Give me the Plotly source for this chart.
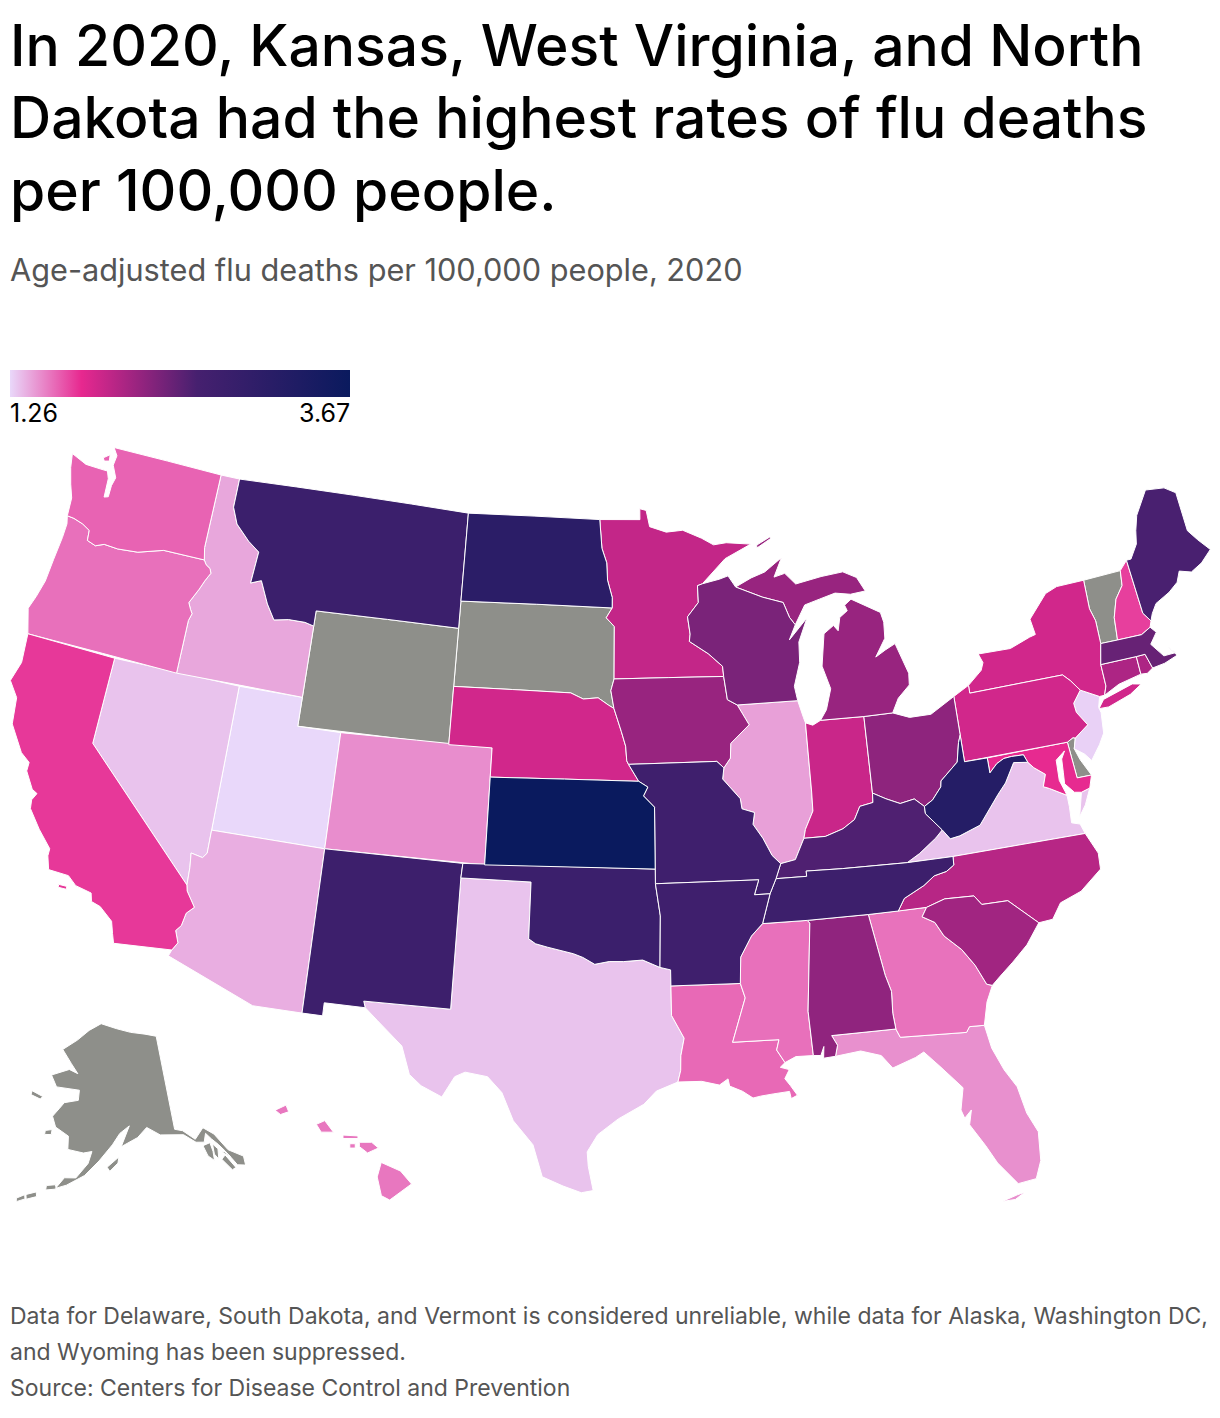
import plotly.graph_objects as go
from plotly.colors import sample_colorscale

# ---- chart data ----
states = ["UT","NJ","TX","VA","NV","AZ","ID","IL","CO","FL","OR","HI","WA","LA","MS","GA","CA","NH","MD","NE","NY","PA","IN","MN","NC","CT","RI","SC","IA","AL","OH","MI","WI","MA","KY","ME","TN","NM","MO","MT","OK","AR","ND","WV","KS"]
rates = [1.26,1.28,1.32,1.32,1.32,1.38,1.40,1.42,1.475,1.467,1.56,1.54,1.597,1.58,1.56,1.554,1.72,1.70,1.76,1.88,1.88,1.88,1.92,1.95,2.01,2.06,2.06,2.12,2.17,2.21,2.22,2.17,2.32,2.42,2.54,2.57,2.75,2.75,2.71,2.78,2.78,2.71,3.07,3.19,3.67]
no_data_states = ["AK","DC","DE","SD","VT","WY"]
no_data_color = "#8e8f8a"
scale_min = 1.26
scale_max = 3.67
scale_stops = [[0,"#e9d8fa"],[0.21,"#e7288f"],[0.55,"#46206f"],[1,"#0a1a5e"]]
title_lines = ["In 2020, Kansas, West Virginia, and North","Dakota had the highest rates of flu deaths","per 100,000 people."]
subtitle = "Age-adjusted flu deaths per 100,000 people, 2020"
notes = ["Data for Delaware, South Dakota, and Vermont is considered unreliable, while data for Alaska, Washington DC,","and Wyoming has been suppressed.","Source: Centers for Disease Control and Prevention"]

# ---- base map ----
# plotly's own state map is fetched from a CDN, which is unavailable here, so these are
# hand-approximated state outlines in lon/lat, drawn through plotly's albers-usa projection.
wa_or=[(-116.92,46.0),(-118.98,46.0),(-119.3,45.93),(-120.2,45.72),(-121.2,45.65),(-121.9,45.68),(-122.3,45.55),(-122.75,45.65),(-122.8,46.0),(-123.2,46.15),(-123.7,46.25),(-124.05,46.27)]
id_or=[(-116.92,46.0),(-116.78,45.85),(-116.55,45.75),(-116.46,45.6),(-116.67,45.3),(-116.85,44.98),(-117.2,44.45),(-117.05,44.24),(-116.93,44.1),(-117.03,43.85),(-117.03,42.0)]
co_river=[(-114.63,35.0),(-114.57,34.8),(-114.14,34.3),(-114.43,34.05),(-114.53,33.6),(-114.72,33.4),(-114.53,33.0),(-114.72,32.72)]
nv_az=[(-114.04,37.0),(-114.04,36.2),(-114.2,36.02),(-114.72,36.1),(-114.65,35.6),(-114.63,35.0)]
id_mt=[(-116.05,49.0),(-116.05,48.0),(-115.7,47.45),(-114.95,46.95),(-114.35,46.65),(-114.45,45.55),(-113.95,45.7),(-113.45,44.95),(-113.0,44.45),(-112.3,44.55),(-111.5,44.55),(-111.05,44.47)]
red_n=[(-97.23,49.0),(-97.1,48.0),(-96.85,47.5),(-96.8,46.9),(-96.56,46.3),(-96.56,45.94)]
sd_mn=[(-96.56,45.94),(-96.85,45.6),(-96.45,45.3),(-96.45,43.5)]
sioux=[(-96.45,43.5),(-96.6,43.1),(-96.45,42.49)]
ne_sd=[(-96.45,42.49),(-96.7,42.6),(-97.2,42.85),(-97.9,42.8),(-98.5,43.0),(-104.05,43.0)]
mo_river=[(-96.45,42.49),(-96.1,41.7),(-95.9,41.2),(-95.85,40.7),(-95.77,40.58),(-95.31,40.0)]
ks_mo=[(-95.31,40.0),(-94.9,39.8),(-95.1,39.5),(-94.61,39.11),(-94.62,37.0)]
ok_ar=[(-94.62,36.5),(-94.43,35.4),(-94.48,33.64)]
red_s=[(-94.48,33.64),(-95.2,33.9),(-96.0,33.85),(-96.6,33.85),(-97.2,33.75),(-97.7,33.98),(-98.1,34.1),(-99.2,34.3),(-99.7,34.4),(-100.0,34.56)]
tx_la=[(-94.04,33.0),(-94.04,31.99),(-93.55,31.2),(-93.7,30.6),(-93.72,30.1),(-93.84,29.7)]
upper_miss=[(-92.8,44.75),(-91.9,44.3),(-91.25,43.85),(-91.22,43.5)]
ia_wi=[(-91.22,43.5),(-91.1,42.7),(-90.65,42.5)]
il_west_a=[(-90.65,42.5),(-90.15,41.8),(-91.05,41.2),(-91.1,40.7),(-91.42,40.38)]
il_west_b=[(-91.42,40.38),(-91.5,40.0),(-90.75,39.3),(-90.7,38.95),(-90.15,38.8),(-90.25,38.4),(-89.85,37.9),(-89.5,37.3),(-89.15,37.0)]
mo_ky_tn=[(-89.15,37.0),(-89.4,36.5),(-89.7,36.0)]
ar_tn_ms=[(-89.7,36.0),(-90.1,35.0)]
ar_ms=[(-90.1,35.0),(-90.6,34.6),(-91.1,33.9),(-91.17,33.0)]
la_ms=[(-91.17,33.0),(-91.0,32.5),(-91.6,31.0),(-89.73,31.0),(-89.85,30.65),(-89.55,30.2)]
ms_al=[(-88.1,34.9),(-88.47,31.9),(-88.4,30.37)]
al_ga=[(-85.6,35.0),(-85.18,32.87),(-85.0,32.3),(-85.05,31.55),(-85.0,31.0)]
ga_sc=[(-83.11,35.0),(-83.35,34.7),(-82.85,34.45),(-82.55,33.95),(-81.9,33.4),(-81.45,32.8),(-81.1,32.1),(-80.88,32.03)]
fl_ga=[(-85.0,31.0),(-84.86,30.7),(-82.2,30.57),(-82.05,30.75),(-81.45,30.72)]
nc_sc=[(-83.11,35.0),(-82.3,35.2),(-81.05,35.15),(-80.78,34.82),(-79.67,34.8),(-78.55,33.87)]
nc_tn=[(-84.32,35.0),(-84.0,35.4),(-83.1,35.75),(-82.6,36.03),(-82.05,36.12),(-81.7,36.3),(-81.68,36.59)]
ky_tn=[(-83.68,36.6),(-86.5,36.65),(-88.07,36.68),(-88.07,36.5),(-89.4,36.5)]
ky_va=[(-83.68,36.6),(-83.1,36.85),(-82.3,37.3),(-81.97,37.54)]
ky_wv=[(-81.97,37.54),(-82.6,38.17),(-82.6,38.42)]
ohio_ky=[(-82.6,38.42),(-83.0,38.72),(-83.65,38.63),(-84.25,38.85),(-84.82,39.1)]
ohio_in=[(-84.82,39.1),(-84.85,38.78),(-85.45,38.7),(-85.75,38.27),(-86.3,38.0),(-87.1,37.8),(-88.05,37.8)]
ky_il=[(-88.05,37.8),(-88.5,37.1),(-89.15,37.0)]
wabash=[(-88.05,37.8),(-87.95,38.1),(-87.55,38.7),(-87.53,39.35),(-87.53,41.72)]
oh_wv=[(-82.6,38.42),(-82.2,38.6),(-81.75,39.0),(-81.7,39.2),(-80.85,39.75),(-80.65,40.4),(-80.52,40.64)]
va_wv=[(-77.72,39.32),(-78.35,39.4),(-78.87,38.77),(-79.3,38.42),(-80.3,37.5),(-81.25,37.25),(-81.68,37.2),(-81.97,37.54)]
md_wv=[(-79.48,39.72),(-79.48,39.2),(-79.1,39.47),(-78.75,39.6),(-78.4,39.62),(-77.85,39.6),(-77.72,39.32)]
potomac=[(-77.72,39.32),(-77.5,39.1),(-77.05,38.8),(-77.25,38.4),(-77.0,38.3),(-76.3,37.95)]
de_pa_nj=[(-75.79,39.72),(-75.5,39.83),(-75.4,39.8)]
de_nj=[(-75.4,39.8),(-75.55,39.45),(-75.4,39.05),(-75.05,38.45)]
pa_nj=[(-74.7,41.36),(-75.13,40.97),(-75.1,40.65),(-74.72,40.15),(-75.4,39.8)]
pa_ny=[(-79.76,42.27),(-79.76,42.0),(-75.35,42.0),(-75.05,41.75),(-74.7,41.36)]
ny_vt=[(-73.35,45.0),(-73.4,44.0),(-73.25,43.55),(-73.27,42.75)]
ny_ma_ct=[(-73.27,42.75),(-73.5,42.05),(-73.5,41.3),(-73.66,41.0)]
vt_nh=[(-71.5,45.01),(-71.6,44.5),(-72.05,44.1),(-72.35,43.5),(-72.46,42.73)]
nh_me=[(-71.08,45.3),(-70.98,43.4),(-70.7,43.07)]
wi_mi=[(-90.4,46.55),(-89.1,46.14),(-88.1,45.9),(-87.85,45.37),(-87.6,45.1)]
mn_wi=[(-92.05,46.72),(-92.3,46.66),(-92.29,46.08),(-92.85,45.6),(-92.75,45.0),(-92.8,44.75)]

def ring(*parts):
    out=[]
    for part in parts:
        for pt in part:
            if not out or out[-1]!=pt:
                out.append(pt)
    return out
R=lambda a:a[::-1]

shapes={
"WA":[ring([(-122.76,49.0),(-117.03,49.0),(-117.04,46.42)],wa_or,[(-124.1,46.9),(-124.35,47.35),(-124.6,47.9),(-124.73,48.38),(-123.9,48.16),(-123.1,48.15),(-122.75,48.15),(-122.6,47.9),(-122.55,47.25),(-122.35,47.3),(-122.35,47.7),(-122.25,48.0),(-122.55,48.4),(-122.5,48.75)]),[(-123.15,48.55),(-122.85,48.72),(-122.8,48.5),(-123.05,48.45)]],
"OR":[ring(R(wa_or),id_or,[(-124.21,42.0),(-124.55,42.84),(-124.35,43.3),(-124.15,43.9),(-124.07,44.7),(-123.97,45.5),(-123.95,46.0)])],
"CA":[ring([(-124.21,42.0),(-120.0,42.0),(-120.0,39.0)],co_river,[(-117.12,32.53),(-117.25,32.85),(-117.4,33.25),(-118.0,33.65),(-118.4,33.75),(-118.5,34.03),(-119.2,34.15),(-119.6,34.42),(-120.47,34.45),(-120.65,34.9),(-120.65,35.15),(-121.3,35.7),(-121.9,36.3),(-121.95,36.6),(-121.8,36.85),(-122.05,36.95),(-122.5,37.5),(-122.5,37.8),(-122.95,38.05),(-123.7,38.9),(-123.85,39.8),(-124.35,40.3),(-124.1,41.0)]),[(-119.9,34.05),(-119.55,34.05),(-119.55,33.95),(-119.9,33.95)]],
"NV":[ring([(-120.0,42.0),(-114.04,42.0)],nv_az,[(-120.0,39.0)])],
"ID":[ring([(-117.03,49.0)],id_mt,[(-111.05,42.0),(-117.03,42.0)],R(id_or),[(-117.04,46.42)])],
"UT":[[(-114.04,42.0),(-111.05,42.0),(-111.05,41.0),(-109.05,41.0),(-109.05,37.0),(-114.04,37.0)]],
"AZ":[ring([(-114.04,37.0),(-109.05,37.0),(-109.05,31.33),(-111.07,31.33),(-114.81,32.5)],R(co_river),R(nv_az))],
"MT":[ring([(-116.05,49.0),(-104.05,49.0),(-104.05,45.0),(-111.05,45.0)],R(id_mt))],
"WY":[[(-111.05,45.0),(-104.05,45.0),(-104.05,41.0),(-111.05,41.0)]],
"CO":[[(-109.05,41.0),(-102.05,41.0),(-102.05,37.0),(-109.05,37.0)]],
"NM":[[(-109.05,37.0),(-103.0,37.0),(-103.04,36.5),(-103.06,32.0),(-106.62,32.0),(-106.53,31.78),(-108.21,31.78),(-108.21,31.33),(-109.05,31.33)]],
"ND":[ring([(-104.05,49.0)],red_n,[(-104.05,45.94)])],
"SD":[ring([(-104.05,45.94)],sd_mn,sioux,ne_sd)],
"NE":[ring(R(ne_sd),mo_river,[(-102.05,40.0),(-102.05,41.0),(-104.05,41.0)])],
"KS":[ring([(-102.05,40.0)],ks_mo,[(-102.05,37.0)])],
"OK":[ring([(-103.0,37.0),(-94.62,37.0)],ok_ar,red_s,[(-100.0,36.5),(-103.04,36.5)])],
"TX":[ring([(-103.06,32.0),(-103.04,36.5),(-100.0,36.5)],R(red_s),[(-94.04,33.55)],tx_la,[(-94.7,29.4),(-95.2,28.95),(-96.2,28.45),(-97.0,27.9),(-97.4,27.3),(-97.35,26.8),(-97.15,25.96),(-97.6,25.88),(-98.3,26.1),(-99.1,26.4),(-99.5,27.5),(-100.3,28.3),(-100.8,29.25),(-101.4,29.77),(-102.3,29.88),(-102.7,29.7),(-103.15,28.97),(-104.0,29.3),(-104.5,29.65),(-104.9,30.6),(-106.0,31.4),(-106.53,31.78),(-106.62,32.0)])],
"MN":[ring([(-97.23,49.0),(-95.15,49.0),(-95.15,49.38),(-94.82,49.32),(-94.65,48.75),(-93.8,48.55),(-92.95,48.6),(-92.0,48.3),(-91.4,48.05),(-90.75,48.1),(-89.5,48.0),(-90.85,47.55)],mn_wi,upper_miss,[(-96.45,43.5)],R(sd_mn),R(red_n))],
"IA":[ring([(-96.45,43.5),(-91.22,43.5)],ia_wi,il_west_a,[(-91.73,40.61),(-95.77,40.58),(-95.85,40.7),(-95.9,41.2),(-96.1,41.7),(-96.45,42.49)],R(sioux))],
"MO":[ring([(-95.77,40.58),(-91.73,40.61),(-91.42,40.38)],il_west_b,mo_ky_tn,[(-90.37,36.0),(-90.15,36.5),(-94.62,36.5),(-94.62,37.0)],R(ks_mo))],
"AR":[ring([(-94.62,36.5),(-90.15,36.5),(-90.37,36.0),(-89.7,36.0)],ar_tn_ms,ar_ms,[(-94.04,33.0),(-94.04,33.55),(-94.48,33.64)],R(ok_ar))],
"LA":[ring([(-94.04,33.0),(-91.17,33.0)],la_ms,[(-89.75,30.05),(-89.4,29.95),(-89.6,29.65),(-89.4,29.4),(-89.15,29.05),(-89.4,28.95),(-89.45,29.2),(-90.1,29.15),(-90.6,29.1),(-90.9,29.05),(-91.3,29.3),(-91.8,29.5),(-91.85,29.75),(-92.2,29.55),(-92.9,29.7)],R(tx_la))],
"MS":[ring([(-90.1,35.0),(-88.2,35.0)],ms_al,[(-89.1,30.38)],R(la_ms),R(ar_ms))],
"AL":[ring([(-88.2,35.0)],al_ga,[(-87.6,31.0),(-87.4,30.65),(-87.52,30.28),(-88.0,30.25),(-87.95,30.65),(-88.1,30.35)],R(ms_al))],
"GA":[ring([(-85.6,35.0)],ga_sc,[(-81.2,31.5)],R(fl_ga),R(al_ga))],
"FL":[ring([(-87.6,31.0)],fl_ga,[(-81.3,29.9),(-80.95,29.1),(-80.55,28.45),(-80.35,27.5),(-80.03,26.8),(-80.12,25.8),(-80.4,25.2),(-81.1,25.13),(-81.75,25.95),(-82.1,26.6),(-82.6,27.4),(-82.45,27.9),(-82.75,27.65),(-82.85,27.95),(-82.65,28.7),(-83.4,29.5),(-84.0,30.1),(-84.35,29.95),(-85.3,29.68),(-85.7,30.15),(-86.5,30.38),(-87.52,30.28),(-87.4,30.65)]),[(-81.8,24.6),(-81.2,24.75),(-80.9,24.8),(-81.3,24.6)]],
"SC":[ring(R(ga_sc),nc_sc,[(-79.2,33.2),(-79.9,32.7),(-80.5,32.3)])],
"NC":[ring([(-84.32,35.0)],nc_sc,[(-77.95,33.9),(-77.5,34.4),(-76.55,34.65),(-75.55,35.25),(-75.5,35.8),(-75.87,36.55),(-81.68,36.59)],R(nc_tn))],
"TN":[ring([(-90.1,35.0),(-88.2,35.0),(-85.6,35.0)],nc_tn,ky_tn,[(-89.7,36.0)])],
"KY":[ring(R(ky_tn),ky_va,ky_wv,ohio_ky,ohio_in,ky_il,[(-89.4,36.5)])],
"IN":[ring([(-87.53,41.72),(-87.2,41.62),(-86.82,41.76),(-84.8,41.73)],ohio_in,wabash)],
"IL":[ring([(-90.65,42.5),(-87.8,42.5),(-87.6,41.9)],R(wabash),ky_il,R(il_west_b),R(il_west_a))],
"WI":[ring(wi_mi,[(-87.95,44.6),(-87.0,45.3),(-87.5,44.5),(-87.55,43.8),(-87.9,43.0),(-87.8,42.5),(-90.65,42.5)],R(ia_wi),R(upper_miss),R(mn_wi),[(-91.2,46.85),(-90.75,46.95)])],
"MI":[ring(R(wi_mi),[(-89.6,46.83),(-88.9,47.0),(-88.0,47.45),(-88.45,46.8),(-87.9,46.9),(-87.4,46.5),(-86.1,46.67),(-85.0,46.75),(-84.35,46.5),(-84.0,46.0),(-84.75,45.95),(-85.5,46.05),(-86.3,45.9),(-87.05,45.75)]),
      [(-86.82,41.76),(-86.5,42.1),(-86.2,42.8),(-86.5,43.6),(-86.25,44.7),(-85.75,44.95),(-85.55,44.75),(-85.4,45.2),(-85.0,45.4),(-85.1,45.6),(-84.75,45.78),(-83.4,45.2),(-83.3,44.85),(-83.35,44.3),(-83.9,43.7),(-83.4,43.9),(-82.9,44.07),(-82.45,43.0),(-82.5,42.6),(-83.1,42.2),(-83.45,41.73),(-84.8,41.73)],
      [(-89.2,47.85),(-88.45,48.15),(-88.5,48.2),(-89.2,47.95)]],
"OH":[ring([(-84.8,41.73),(-83.45,41.73),(-82.7,41.5),(-81.7,41.5),(-80.52,41.98)],R(oh_wv),ohio_ky)],
"WV":[ring([(-80.52,40.64),(-80.52,39.72)],md_wv,va_wv,ky_wv,oh_wv)],
"VA":[ring(ky_va,R(va_wv),potomac,[(-76.3,37.55),(-76.35,37.0),(-76.0,36.9),(-75.87,36.55),(-81.68,36.59)]),[(-75.95,37.15),(-75.65,37.95),(-75.25,38.03),(-75.6,37.5)]],
"MD":[ring(md_wv,potomac,[(-76.35,38.1),(-76.5,38.5),(-76.45,39.2),(-76.0,39.45),(-76.2,39.2),(-76.25,38.75),(-76.3,38.35),(-75.95,38.0),(-75.65,37.95),(-75.25,38.03),(-75.05,38.45),(-75.7,38.46),(-75.79,39.72)])],
"DC":[[(-77.12,38.93),(-77.04,39.0),(-76.91,38.89),(-77.04,38.79)]],
"DE":[ring(de_pa_nj,de_nj,[(-75.7,38.46)])],
"PA":[ring([(-80.52,41.98)],pa_ny,pa_nj,R(de_pa_nj),[(-80.52,39.72)])],
"NJ":[ring(pa_nj,[(-75.55,39.45),(-75.15,39.2),(-74.9,38.93),(-74.4,39.4),(-74.1,39.75),(-74.0,40.45),(-74.05,40.65),(-73.9,41.0)])],
"NY":[ring(pa_ny,[(-73.9,41.0)],R(ny_ma_ct),R(ny_vt),[(-74.7,45.0),(-75.3,44.85),(-76.3,44.1),(-76.2,43.55),(-76.5,43.5),(-77.5,43.25),(-79.05,43.27),(-78.9,42.95),(-79.05,42.7)]),[(-74.05,40.6),(-73.75,40.87),(-72.3,41.15),(-71.9,41.07),(-72.5,40.82),(-73.6,40.58)]],
"CT":[[(-73.5,42.05),(-71.8,42.02),(-71.8,41.4),(-72.9,41.25),(-73.66,41.0),(-73.5,41.3)]],
"RI":[[(-71.8,42.02),(-71.38,42.02),(-71.2,41.5),(-71.5,41.37),(-71.8,41.4)]],
"MA":[[(-73.27,42.75),(-72.46,42.73),(-71.3,42.7),(-70.82,42.87),(-70.6,42.65),(-71.0,42.3),(-70.55,41.8),(-70.0,41.8),(-70.25,42.07),(-69.95,41.7),(-70.6,41.55),(-71.2,41.5),(-71.38,42.02),(-71.8,42.02),(-73.5,42.05)]],
"VT":[ring(ny_vt[:1],vt_nh,R(ny_vt))],
"NH":[ring(vt_nh[:1],nh_me,[(-70.82,42.87),(-71.3,42.7)],R(vt_nh))],
"ME":[ring([(-71.08,45.3),(-70.85,45.3),(-70.4,45.75),(-70.25,46.2),(-70.0,46.7),(-69.23,47.46),(-68.3,47.35),(-67.8,47.07),(-67.8,45.7),(-67.45,45.3),(-67.0,44.85),(-67.6,44.5),(-68.2,44.3),(-68.75,44.45),(-69.0,44.1),(-69.5,43.85),(-69.8,43.75),(-70.25,43.6),(-70.55,43.3),(-70.7,43.07)],R(nh_me))],
"AK":[[(-141.0,69.65),(-141.0,60.3),(-139.5,60.0),(-137.5,58.9),(-135.5,59.8),(-133.8,58.9),(-132.2,57.0),(-130.0,55.9),(-130.2,55.0),(-131.5,55.3),(-132.0,56.0),(-132.8,57.0),(-133.6,57.8),(-134.5,58.5),(-135.3,59.2),(-136.0,58.4),(-137.5,58.6),(-139.5,59.6),(-144.0,60.0),(-146.5,60.9),(-148.5,60.0),(-151.8,59.2),(-150.0,61.2),(-152.0,60.5),(-153.5,59.4),(-156.0,57.8),(-158.5,56.3),(-161.5,55.2),(-163.3,54.75),(-162.0,55.9),(-160.0,56.0),(-158.0,57.5),(-157.4,58.7),(-159.0,58.5),(-162.0,58.7),(-162.2,60.0),(-165.0,60.7),(-166.0,61.7),(-164.8,62.6),(-164.0,63.2),(-161.0,63.6),(-161.0,64.6),(-166.3,64.6),(-168.0,65.65),(-164.0,66.5),(-161.8,66.2),(-163.7,67.1),(-166.5,68.35),(-163.0,69.5),(-160.0,70.6),(-156.6,71.35),(-152.0,70.85),(-148.0,70.4),(-144.0,70.05)],
      [(-154.5,57.2),(-152.3,58.2),(-152.5,57.6),(-154.0,56.8)],[(-166.9,60.2),(-165.6,60.4),(-165.6,59.9),(-166.9,59.8)],[(-171.5,63.7),(-168.9,63.4),(-169.3,63.1),(-171.5,63.3)],
      [(-164.9,54.45),(-163.1,54.7),(-163.4,55.1),(-164.9,54.9)],[(-167.8,53.2),(-166.2,53.65),(-166.4,54.1),(-168.0,53.65)],[(-169.3,52.75),(-168.0,53.2),(-168.2,53.6),(-169.4,53.1)],[(-174.5,51.95),(-172.5,52.15),(-172.6,52.5),(-174.6,52.3)],[(-177.5,51.5),(-176.0,51.7),(-176.1,52.1),(-177.6,51.95)],
      [(-136.4,58.1),(-135.0,58.2),(-134.9,57.3),(-135.1,56.4),(-136.0,57.0)],[(-134.6,58.0),(-133.9,57.4),(-134.3,56.4),(-134.8,57.0)],[(-133.8,56.3),(-132.6,55.0),(-131.9,55.1),(-133.0,56.6)],[(-133.4,57.0),(-132.6,56.5),(-132.2,56.3),(-132.9,56.9)]],
"HI":[[(-155.9,20.25),(-155.2,19.95),(-154.8,19.5),(-155.6,18.95),(-155.9,19.1),(-156.05,19.75)],[(-156.7,20.95),(-156.25,20.95),(-156.0,20.75),(-156.4,20.58),(-156.7,20.8)],[(-157.3,21.2),(-156.75,21.17),(-156.75,21.08),(-157.3,21.08)],[(-157.05,20.9),(-156.85,20.9),(-156.85,20.75),(-157.05,20.75)],[(-158.28,21.57),(-157.97,21.7),(-157.65,21.3),(-158.1,21.3)],[(-159.8,22.05),(-159.4,22.23),(-159.3,22.0),(-159.6,21.9)]],
}

def clockwise(r):
    pts=list(r)
    if pts[0]!=pts[-1]:
        pts.append(pts[0])
    area=sum((b[0]-a[0])*(b[1]+a[1]) for a,b in zip(pts,pts[1:]))
    return pts if area>0 else pts[::-1]

W,H=1220,1418
PAGE_OFFSET=8   # the page's body margin shifts everything by this many pixels
fig=go.Figure()
def add_state(code,fill,label):
    lon,lat=[],[]
    for r in shapes[code]:
        for a,b in clockwise(r):
            lon.append(a); lat.append(b)
        lon.append(None); lat.append(None)
    fig.add_trace(go.Scattergeo(lon=lon[:-1],lat=lat[:-1],mode="lines",fill="toself",fillcolor=fill,
        line=dict(color="white",width=1),name=code,text=label,hoverinfo="name+text",showlegend=False))
for code in no_data_states:
    add_state(code,no_data_color,"no data")
for code,rate in zip(states,rates):
    fill=sample_colorscale(scale_stops,[(rate-scale_min)/(scale_max-scale_min)],colortype="rgb")[0]
    add_state(code,fill,str(rate))
# invisible marker trace that carries the colour bar
fig.add_trace(go.Scattergeo(lon=[-98],lat=[38.5],mode="markers",hoverinfo="skip",showlegend=False,
    marker=dict(size=1,opacity=0,color=[scale_min],cmin=scale_min,cmax=scale_max,colorscale=scale_stops,showscale=True,
    colorbar=dict(orientation="h",thickness=27,thicknessmode="pixels",len=340,lenmode="pixels",x=(10-PAGE_OFFSET)/W,xanchor="left",y=1-(370-PAGE_OFFSET)/H,yanchor="top",
                  outlinewidth=0,borderwidth=0,xpad=0,ypad=0,ticks="",showticklabels=False))))
# The view box is narrowed in longitude so the map's clip rectangle is tall enough for Washington and Alaska.
fig.update_geos(scope="usa",projection_type="albers usa",visible=False,showland=False,showlakes=False,showcountries=False,showsubunits=False,showcoastlines=False,showframe=False,
                bgcolor="rgba(0,0,0,0)",domain=dict(x=[0,1204/W],y=[1-(817+400)/H,1-(817-400)/H]),
                lonaxis_range=[-119.6,-73.6],lataxis_range=[20,52],center=dict(lon=-96.6,lat=38.51),projection_scale=1.037)
def text(s,y,size,color,x=10,anchor="left",weight=400):
    px=x-PAGE_OFFSET-(2 if anchor=="left" else -2)
    fig.add_annotation(text=s,x=px/W,y=1-(y-PAGE_OFFSET)/H,xref="paper",yref="paper",xanchor=anchor,yanchor="middle",showarrow=False,
                       font=dict(family="Inter",size=size,color=color,weight=weight))
for i,line in enumerate(title_lines):
    text(line,46+72*i,57,"#000000",weight=500)
text(subtitle,270,30.7,"#555555")
text(f"{scale_min:.2f}",413,25,"#000000")
text(f"{scale_max:.2f}",413,25,"#000000",x=350,anchor="right")
for i,line in enumerate(notes):
    text(line,1316+36*i,23,"#555555")
fig.update_layout(width=W,height=H,margin=dict(l=0,r=0,t=0,b=0),paper_bgcolor="white",showlegend=False)
fig.write_html("out.html")
